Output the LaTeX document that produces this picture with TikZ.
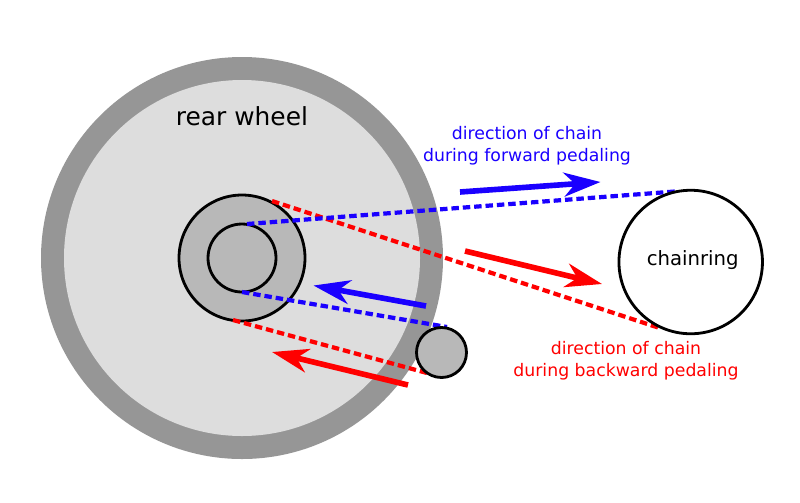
\documentclass[tikz,border=0pt]{standalone}
\usepackage{fontspec}
\setmainfont{DejaVu Sans}
\usetikzlibrary{arrows.meta}
\definecolor{tyregray}{RGB}{150,150,150}
\definecolor{wheelgray}{RGB}{221,221,221}
\definecolor{sprocketgray}{RGB}{184,184,184}
\definecolor{forwardblue}{RGB}{26,0,255}
\tikzset{
    part/.style={circle, draw=black, line width=2pt, inner sep=0pt, outer sep=0pt},
    bare/.style={circle, inner sep=0pt, outer sep=0pt},
    chain/.style={line width=3pt, dash pattern=on 5.3pt off 2.8pt},
    motion/.style={line width=4pt, -{Stealth[length=26pt, width=17pt, inset=8pt]}},
    caption/.style={font=\fontsize{12.3}{15.6}\selectfont, align=center}
}
\begin{document}
\begin{tikzpicture}[x=0.025cm, y=-0.025cm]
    \useasboundingbox (0, 0) rectangle (800, 502);

    \node [bare, fill=tyregray, minimum size=402*0.025cm] (tyre) at (242, 258) {};
    \node [bare, fill=wheelgray, minimum size=356*0.025cm] (wheel) at (242, 258) {};
    \node [part, fill=sprocketgray, minimum size=126*0.025cm] (large) at (242, 258) {};
    \node [part, fill=sprocketgray, minimum size=68*0.025cm] (small) at (242, 258) {};

    \coordinate (bluetop) at (247, 224);
    \coordinate (bluering) at (675, 191.5);
    \coordinate (blueidler) at (447, 327);
    \coordinate (bluelow) at (242, 292);
    \coordinate (redtop) at (272, 201);
    \coordinate (redring) at (658, 327.5);
    \coordinate (redidler) at (427, 373);
    \coordinate (redlow) at (233, 320);

    \draw [chain, red] (redtop) -- (redring);
    \draw [chain, red] (redlow) -- (redidler);
    \draw [chain, forwardblue] (bluetop) -- (bluering);
    \draw [chain, forwardblue] (bluelow) -- (blueidler);

    \node [part, fill=white, minimum size=143.5*0.025cm] (chainring) at (690.7, 262) {};
    \node [font=\fontsize{14}{17}\selectfont] (ringname) at (692.7, 260) {chainring};
    \node [part, fill=sprocketgray, minimum size=50*0.025cm] (idler) at (441.5, 352.5) {};

    \coordinate (a1) at (460, 192);
    \coordinate (a2) at (600.5, 182);
    \coordinate (b1) at (465, 251);
    \coordinate (b2) at (602, 284);
    \coordinate (c1) at (426, 306);
    \coordinate (c2) at (313.5, 285.5);
    \coordinate (d1) at (408, 385);
    \coordinate (d2) at (272, 352);
    \draw [motion, forwardblue] (a1) -- (a2);
    \draw [motion, red] (b1) -- (b2);
    \draw [motion, forwardblue] (c1) -- (c2);
    \draw [motion, red] (d1) -- (d2);

    \node [font=\fontsize{17.7}{22}\selectfont] (title) at (242, 116.5) {rear wheel};
    \node [caption, text=forwardblue] (forward) at (527, 145.5) {direction of chain\\during forward pedaling};
    \node [caption, text=red] (backward) at (626, 360.5) {direction of chain\\during backward pedaling};
\end{tikzpicture}
\end{document}
